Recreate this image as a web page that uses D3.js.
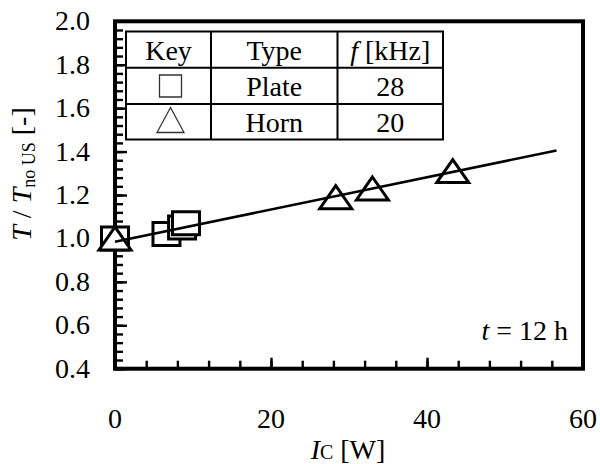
<!DOCTYPE html>
<html>
<head>
<meta charset="utf-8">
<script src="https://cdn.jsdelivr.net/npm/d3@7"></script>
<style>
  html, body { margin: 0; padding: 0; background: #fff; }
</style>
</head>
<body>
<svg id="chart" width="600" height="464"></svg>
<script>
// ---- data ----
const plateX = [0, 6.6, 8.6, 9.1];
const plateY = [1.0, 1.02, 1.05, 1.07];
const hornX = [0, 28.3, 33.0, 43.3];
const hornY = [1.0, 1.19, 1.23, 1.31];
const fitX = [0, 56.6];
const fitY = [0.985, 1.405];
const xTickLabels = [0, 20, 40, 60];
const yTickLabels = [0.4, 0.6, 0.8, 1.0, 1.2, 1.4, 1.6, 1.8, 2.0];
const legendHeader = ["Key", "Type", "f [kHz]"];
const legendTypes = ["Plate", "Horn"];
const legendFreq = ["28", "20"];
const fontNames = ["Liberation Serif"];

// ---- layout ----
const svg = d3.select("#chart");
const L = 115, R = 583, T = 21.3, B = 368.7;
const x = d3.scaleLinear().domain([0, 60]).range([L, R]);
const y = d3.scaleLinear().domain([0.4, 2.0]).range([B, T]);
const FS = 28;
const FF = `"${fontNames[0]}", monospace`;

function stext(g, px, py, anchor, size) {
  return g.append("text")
    .attr("x", px).attr("y", py)
    .attr("font-size", size || FS)
    .style("font-family", FF)
    .attr("text-anchor", anchor);
}

// ticks (inward)
const xMinor = d3.range(0, 61, 4);
const xMajor = d3.range(0, 61, 20);
const yMinor = d3.range(0, 41).map(i => +(0.4 + i * 0.04).toFixed(2));
const yMajor = yTickLabels;

const tickG = svg.append("g");
tickG.append("g").attr("transform", `translate(0,${B})`)
  .call(d3.axisBottom(x).tickValues(xMinor).tickSizeInner(-8).tickSizeOuter(0).tickFormat(""));
tickG.append("g").attr("transform", `translate(0,${B})`)
  .call(d3.axisBottom(x).tickValues(xMajor).tickSizeInner(-11).tickSizeOuter(0).tickFormat(""));
tickG.append("g").attr("transform", `translate(${L},0)`)
  .call(d3.axisLeft(y).tickValues(yMinor).tickSizeInner(-8).tickSizeOuter(0).tickFormat(""));
tickG.append("g").attr("transform", `translate(${L},0)`)
  .call(d3.axisLeft(y).tickValues(yMajor).tickSizeInner(-12).tickSizeOuter(0).tickFormat(""));
tickG.selectAll(".domain").remove();
tickG.selectAll(".tick line").attr("stroke", "#000").attr("stroke-width", 2.4);

// frame
svg.append("rect").attr("x", L).attr("y", T).attr("width", R - L).attr("height", B - T)
  .attr("fill", "none").attr("stroke", "#000").attr("stroke-width", 4);

// tick labels
xTickLabels.forEach(v => stext(svg, x(v), 428, "middle").text(v));
yTickLabels.forEach(v => stext(svg, 90, y(v) + 9, "end").text(v.toFixed(1)));

// axis titles
const xt = stext(svg, 348, 459, "middle");
xt.append("tspan").attr("font-style", "italic").text("I");
xt.append("tspan").attr("font-size", 20).text("C");
xt.append("tspan").text(" [W]");

const yt = svg.append("text")
  .attr("x", 0).attr("y", 0)
  .attr("transform", "translate(31,174) rotate(-90)")
  .attr("font-size", FS)
  .style("font-family", FF)
  .attr("text-anchor", "middle");
yt.append("tspan").attr("font-style", "italic").text("T");
yt.append("tspan").text(" / ");
yt.append("tspan").attr("font-style", "italic").text("T");
yt.append("tspan").attr("font-size", 18).attr("dy", 4).text("no US");
yt.append("tspan").attr("dy", -4).text(" [-]");

// markers
const sqPath = "M-13.5,-11.5H13.5V11.5H-13.5Z";
const triPath = "M0,-11.5L16,11.5L-16,11.5Z";
const plate = plateX.map((v, i) => ({x: v, y: plateY[i]}));
const horn = hornX.map((v, i) => ({x: v, y: hornY[i]}));
svg.append("g").selectAll("path").data(plate).join("path")
  .attr("d", sqPath).attr("transform", d => `translate(${x(d.x)},${y(d.y)})`)
  .attr("fill", "#fff").attr("stroke", "#000").attr("stroke-width", 3);
svg.append("g").selectAll("path").data(horn).join("path")
  .attr("d", triPath).attr("transform", d => `translate(${x(d.x)},${y(d.y)})`)
  .attr("fill", "#fff").attr("stroke", "#000").attr("stroke-width", 3).attr("stroke-linejoin", "miter");

// fit line
svg.append("path")
  .datum(fitX.map((v, i) => [v, fitY[i]]))
  .attr("d", d3.line().x(d => x(d[0])).y(d => y(d[1])))
  .attr("fill", "none").attr("stroke", "#000").attr("stroke-width", 2.6);

// annotation
const ann = stext(svg, 568, 340, "end");
ann.append("tspan").attr("font-style", "italic").text("t");
ann.append("tspan").text(" = 12 h");

// legend table
const colX = [126, 211, 337.5, 443];
const rowY = [31.5, 67.7, 104, 139.5];
const lg = svg.append("g");
lg.append("rect").attr("x", colX[0]).attr("y", rowY[0])
  .attr("width", colX[3] - colX[0]).attr("height", rowY[3] - rowY[0])
  .attr("fill", "#fff").attr("stroke", "#000").attr("stroke-width", 2);
[colX[1], colX[2]].forEach(cx => lg.append("line").attr("x1", cx).attr("x2", cx)
  .attr("y1", rowY[0]).attr("y2", rowY[3]).attr("stroke", "#000").attr("stroke-width", 2));
[rowY[1], rowY[2]].forEach(ry => lg.append("line").attr("x1", colX[0]).attr("x2", colX[3])
  .attr("y1", ry).attr("y2", ry).attr("stroke", "#000").attr("stroke-width", 2));
const colC = [0, 1, 2].map(i => (colX[i] + colX[i + 1]) / 2);
const baseY = [60, 96, 131.5];
stext(lg, colC[0], baseY[0], "middle").text(legendHeader[0]);
stext(lg, colC[1], baseY[0], "middle").text(legendHeader[1]);
const fh = stext(lg, colC[2], baseY[0], "middle");
fh.append("tspan").attr("font-style", "italic").text(legendHeader[2].split(" ")[0]);
fh.append("tspan").text(" " + legendHeader[2].split(" ").slice(1).join(" "));
legendTypes.forEach((t, i) => {
  stext(lg, colC[1], baseY[i + 1], "middle").text(t);
  stext(lg, colC[2], baseY[i + 1], "middle").text(legendFreq[i]);
});
// legend key symbols
lg.append("path").attr("d", "M-11,-11H11V11H-11Z")
  .attr("transform", `translate(${colC[0] + 2},86)`)
  .attr("fill", "none").attr("stroke", "#333").attr("stroke-width", 1.3);
lg.append("path").attr("d", "M0,-12.5L13.5,12.5L-13.5,12.5Z")
  .attr("transform", `translate(${colC[0] + 2},120)`)
  .attr("fill", "none").attr("stroke", "#333").attr("stroke-width", 1.3);
</script>
</body>
</html>
